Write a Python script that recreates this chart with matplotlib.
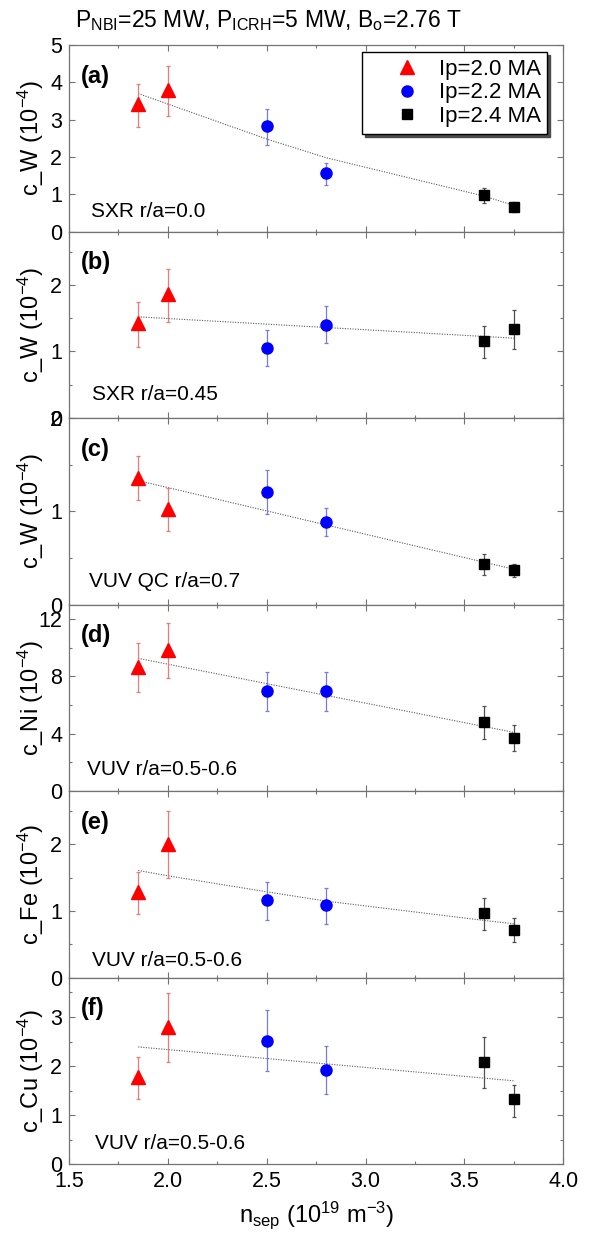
import matplotlib
matplotlib.use('Agg')
import matplotlib.pyplot as plt
from matplotlib.ticker import MultipleLocator, FormatStrFormatter

plt.rcParams['font.family'] = ['Liberation Sans', 'DejaVu Sans']
plt.rcParams['mathtext.fontset'] = 'custom'
plt.rcParams['mathtext.rm'] = 'Liberation Sans'
plt.rcParams['mathtext.it'] = 'Liberation Sans:italic'
plt.rcParams['mathtext.bf'] = 'Liberation Sans:bold'

# ---------------- data ----------------
n_sep = [1.85, 2.00, 2.50, 2.80, 3.60, 3.75]
groups = ['Ip=2.0 MA', 'Ip=2.2 MA', 'Ip=2.4 MA']

a_val = [3.42, 3.79, 2.82, 1.57, 0.97, 0.65]
a_lo = [2.79, 3.09, 2.33, 1.26, 0.77, 0.52]
a_hi = [3.96, 4.44, 3.29, 1.85, 1.17, 0.79]

b_val = [1.43, 1.86, 1.05, 1.40, 1.16, 1.33]
b_lo = [1.07, 1.44, 0.78, 1.12, 0.90, 1.04]
b_hi = [1.74, 2.24, 1.32, 1.68, 1.39, 1.62]

c_val = [1.36, 1.03, 1.21, 0.89, 0.44, 0.37]
c_lo = [1.12, 0.79, 0.97, 0.74, 0.32, 0.30]
c_hi = [1.59, 1.25, 1.44, 1.04, 0.54, 0.44]

d_val = [8.64, 9.86, 6.96, 6.96, 4.79, 3.73]
d_lo = [6.89, 7.90, 5.58, 5.58, 3.62, 2.79]
d_hi = [10.30, 11.75, 8.32, 8.30, 5.97, 4.59]

e_val = [1.29, 2.01, 1.16, 1.09, 0.97, 0.72]
e_lo = [0.95, 1.50, 0.87, 0.81, 0.72, 0.54]
e_hi = [1.59, 2.50, 1.44, 1.35, 1.20, 0.89]

f_val = [1.78, 2.79, 2.52, 1.93, 2.08, 1.32]
f_lo = [1.32, 2.09, 1.90, 1.43, 1.55, 0.97]
f_hi = [2.18, 3.48, 3.14, 2.41, 2.59, 1.62]

# trend lines
fit_a_x = [1.85, 2.50, 2.80, 3.60, 3.75]
fit_a_y = [3.70, 2.48, 1.98, 0.95, 0.70]
fit_b_x = [1.85, 3.75]
fit_b_y = [1.52, 1.20]
fit_c_x = [1.85, 3.75]
fit_c_y = [1.33, 0.38]
fit_d_x = [1.85, 3.75]
fit_d_y = [9.26, 4.10]
fit_e_x = [1.85, 2.00, 2.50, 2.80, 3.60, 3.75]
fit_e_y = [1.61, 1.53, 1.29, 1.15, 0.86, 0.81]
fit_f_x = [1.85, 3.75]
fit_f_y = [2.39, 1.70]

panel_letters = ['(a)', '(b)', '(c)', '(d)', '(e)', '(f)']
ylabels = ['c_W (10$^{-4}$)', 'c_W (10$^{-4}$)', 'c_W (10$^{-4}$)',
           'c_Ni (10$^{-4}$)', 'c_Fe (10$^{-4}$)', 'c_Cu (10$^{-4}$)']
notes = ['SXR r/a=0.0', 'SXR r/a=0.45', 'VUV QC r/a=0.7',
         'VUV r/a=0.5-0.6', 'VUV r/a=0.5-0.6', 'VUV r/a=0.5-0.6']
ylims = [5.0, 2.8, 2.0, 13.0, 2.8, 3.8]
ymajor = [1, 1, 1, 4, 1, 1]
yminor = [None, 0.5, 0.5, 2, 0.5, 0.5]

vals = [a_val, b_val, c_val, d_val, e_val, f_val]
los = [a_lo, b_lo, c_lo, d_lo, e_lo, f_lo]
his = [a_hi, b_hi, c_hi, d_hi, e_hi, f_hi]
fits = [(fit_a_x, fit_a_y), (fit_b_x, fit_b_y), (fit_c_x, fit_c_y),
        (fit_d_x, fit_d_y), (fit_e_x, fit_e_y), (fit_f_x, fit_f_y)]

# ---------------- style ----------------
colors = ['#ff0000', '#0000ff', '#000000']
ecolors = ['#f07878', '#7878f0', '#505050']
markers = ['^', 'o', 's']
msizes = [10, 8, 7.4]
note_pos = [(0.044, 0.080), (0.046, 0.097), (0.040, 0.095),
            (0.037, 0.088), (0.046, 0.065), (0.052, 0.083)]
spine_c = '0.45'

fig, axes = plt.subplots(6, 1, figsize=(5.95, 12.37), dpi=100, sharex=True)
fig.subplots_adjust(left=0.116, right=0.9467, top=0.9636, bottom=0.0588, hspace=0)

for i, ax in enumerate(axes):
    fx, fy = fits[i]
    ax.plot(fx, fy, color='0.35', lw=0.8, ls=(0, (1, 1.3)), zorder=1)
    for g in range(3):
        sl = slice(2 * g, 2 * g + 2)
        x = n_sep[sl]
        y = vals[i][sl]
        lo = [v - l for v, l in zip(y, los[i][sl])]
        hi = [h - v for v, h in zip(y, his[i][sl])]
        ax.errorbar(x, y, yerr=[lo, hi], fmt='none', ecolor=ecolors[g],
                    elinewidth=0.9, capsize=1.6, capthick=0.9, zorder=2)
        ax.plot(x, y, ls='none', marker=markers[g], color=colors[g],
                ms=msizes[g], mec=colors[g], zorder=3, label=groups[g])
    ax.set_xlim(1.5, 4.0)
    ax.set_ylim(0, ylims[i])
    ax.yaxis.set_major_locator(MultipleLocator(ymajor[i]))
    if yminor[i] is not None:
        ax.yaxis.set_minor_locator(MultipleLocator(yminor[i]))
    ax.xaxis.set_major_locator(MultipleLocator(0.5))
    ax.xaxis.set_minor_locator(MultipleLocator(0.25))
    ax.tick_params(which='both', direction='in', top=True, right=True,
                   color=spine_c, width=0.8, labelsize=15.5, pad=5)
    ax.tick_params(which='major', length=4)
    ax.tick_params(which='minor', length=2.5)
    for s in ax.spines.values():
        s.set_color(spine_c)
        s.set_linewidth(0.9)
    ax.set_ylabel(ylabels[i], fontsize=17)
    ax.yaxis.set_label_coords(-0.047, 0.5)
    ax.text(0.023, 0.895, panel_letters[i], transform=ax.transAxes,
            fontsize=17, fontweight='bold', va='top', ha='left')
    ax.text(note_pos[i][0], note_pos[i][1], notes[i], transform=ax.transAxes,
            fontsize=15, va='baseline', ha='left')

axes[-1].xaxis.set_major_formatter(FormatStrFormatter('%.1f'))
axes[-1].set_xlabel('n$_{\\rm sep}$ (10$^{19}$ m$^{-3}$)', fontsize=17)
axes[-1].xaxis.set_label_coords(0.5, -0.19)

axes[0].legend(loc='upper left', bbox_to_anchor=(0.593, 0.962), borderaxespad=0,
               fontsize=16, frameon=True, fancybox=False, edgecolor='black',
               framealpha=1, shadow={'color': '0.3', 'alpha': 1},
               handlelength=3.4, handletextpad=-0.25, borderpad=0.3,
               labelspacing=0.12)
axes[0].get_legend().get_frame().set_linewidth(1.0)

fig.text(0.452, 1 - 26.7 / 1237,
         'P$_{\\rm NBI}$=25 MW, P$_{\\rm ICRH}$=5 MW, B$_{\\rm o}$=2.76 T',
         fontsize=16.5, ha='center', va='baseline')

fig.savefig('out.png', dpi=100)
